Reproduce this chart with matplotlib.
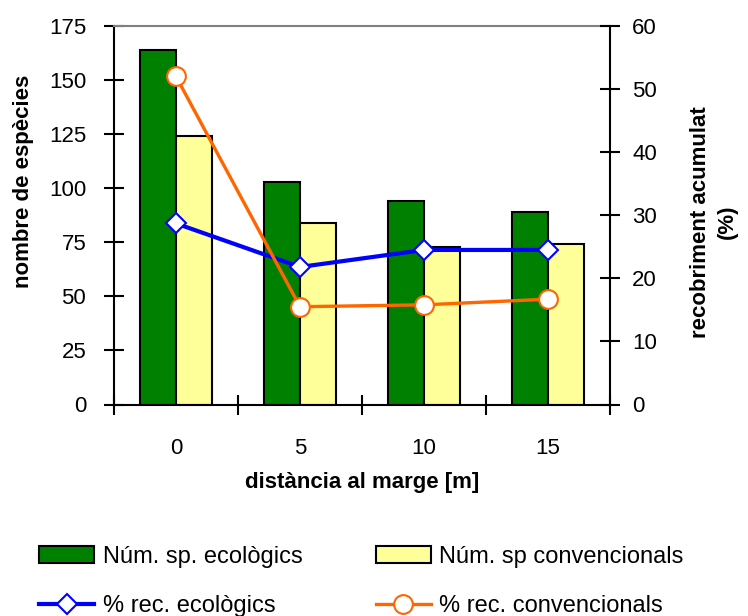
import numpy as np
import matplotlib
matplotlib.use("Agg")
import matplotlib.pyplot as plt

plt.rcParams['font.family'] = ['Liberation Sans', 'DejaVu Sans']

# distancia al marge del camp (m)
distancies = ['0', '5', '10', '15']

# nombre d'especies per tipus de gestio
sp_ecologics = [164, 103, 94, 89]
sp_convencionals = [124, 84, 73, 74]

# recobriment acumulat (%)
rec_ecologics = [28.7, 21.8, 24.5, 24.5]
rec_convencionals = [52.0, 15.5, 15.8, 16.7]

x = np.arange(len(distancies))
amplada = 0.29

fig = plt.figure(figsize=(7.48, 6.16), dpi=100)
ax = fig.add_axes([114 / 748, 1 - 404.5 / 616, 496 / 748, 378.5 / 616])
ax2 = ax.twinx()

# barres: nombre d'especies
b1 = ax.bar(x - amplada / 2, sp_ecologics, amplada, color='#008000',
            edgecolor='black', linewidth=1.5, label='Núm. sp. ecològics')
b2 = ax.bar(x + amplada / 2, sp_convencionals, amplada, color='#FFFF99',
            edgecolor='black', linewidth=1.5, label='Núm. sp convencionals')

# linies: recobriment
l1, = ax2.plot(x, rec_ecologics, color='#0000FF', lw=3, marker='D', ms=10.5,
               mfc='white', mec='#0000FF', mew=1.5, label='% rec. ecològics')
l2, = ax2.plot(x, rec_convencionals, color='#FF6600', lw=2.4, marker='o', ms=13.5,
               mfc='white', mec='#FF6600', mew=1.5, label='% rec. convencionals')

ax.set_xlim(-0.5, 3.5)
ax.set_ylim(0, 175)
ax2.set_ylim(0, 60)

ax.set_yticks(np.arange(0, 176, 25))
ax2.set_yticks(np.arange(0, 61, 10))

# marques a les fronteres, etiquetes al centre de cada grup
ax.set_xticks(np.arange(-0.5, 3.6, 1))
ax.set_xticks(x, minor=True)
ax.set_xticklabels(distancies, minor=True)
ax.tick_params(axis='x', which='major', direction='inout', length=14, width=1.5,
               labelbottom=False)
ax.tick_params(axis='x', which='minor', length=0, pad=24, labelsize=16)
ax.tick_params(axis='y', direction='inout', length=14, width=1.5, pad=13,
               labelsize=16)
ax2.tick_params(axis='y', direction='inout', length=14, width=1.5, pad=9,
                labelsize=16)

for s in ['left', 'bottom']:
    ax.spines[s].set_linewidth(1.5)
ax.spines['right'].set_visible(False)
ax.spines['top'].set_color('#808080')
ax.spines['top'].set_linewidth(1.5)
for s in ['left', 'bottom', 'top']:
    ax2.spines[s].set_visible(False)
ax2.spines['right'].set_linewidth(1.5)

fig.text(24 / 748, 1 - 181 / 616, 'nombre de espècies', rotation=90,
         ha='center', va='center', fontsize=16, fontweight='bold')
fig.text(714 / 748, 1 - 222 / 616, 'recobriment acumulat\n(%)', rotation=90,
         ha='center', va='center', multialignment='center', linespacing=1.4,
         fontsize=16, fontweight='bold')
fig.text(362 / 748, 1 - 482.5 / 616, 'distància al marge [m]',
         ha='center', va='center', fontsize=16, fontweight='bold')

fig.legend(handles=[b1, l1, b2, l2], ncol=2, loc='upper left',
           bbox_to_anchor=(39 / 748, 1 - 546 / 616), frameon=False,
           fontsize=17, handlelength=2.35, handletextpad=0.35,
           columnspacing=3.1, labelspacing=1.15, borderpad=0,
           borderaxespad=0)

fig.savefig('out.png', dpi=100)
